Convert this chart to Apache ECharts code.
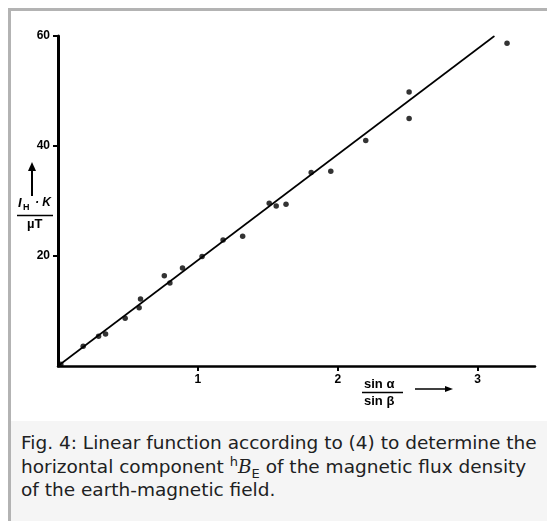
<!DOCTYPE html>
<html>
<head>
<meta charset="utf-8">
<script src="https://cdn.jsdelivr.net/npm/echarts@6/dist/echarts.min.js"></script>
<style>
  html, body { margin: 0; padding: 0; width: 547px; height: 521px; overflow: hidden; background: #ffffff; }
  #frame { position: absolute; left: 8px; top: 8px; width: 600px; height: 600px; border: 3px solid #b3b3b3; background: #ffffff; }
  #chart { position: absolute; left: 0; top: 0; width: 547px; height: 521px; z-index: 1; }
  #caption { position: absolute; left: 11px; top: 421px; width: 560px; height: 120px; background: #f5f5f5; z-index: 2;
             font-family: "DejaVu Sans", sans-serif; font-size: 18.5px; line-height: 23.5px; color: #202122; padding: 10px 0 0 10px; box-sizing: border-box; white-space: nowrap; }
  #caption i { font-family: "DejaVu Serif", serif; }
  #caption sup, #caption sub { font-size: 13px; line-height: 0; }
</style>
</head>
<body>
<div id="frame"></div>
<div id="chart"></div>
<div id="caption">Fig. 4: Linear function according to (4) to determine the<br>horizontal component <sup>h</sup><i>B</i><sub>E</sub> of the magnetic flux density<br>of the earth-magnetic field.</div>
<script>
// measured points: sin(alpha)/sin(beta) vs I_H*K / uT
const ratioX = [0.02, 0.18, 0.29, 0.34, 0.48, 0.58, 0.59, 0.76, 0.80, 0.89, 1.03, 1.18, 1.32, 1.51, 1.56, 1.63, 1.81, 1.95, 2.20, 2.51, 2.51, 3.21];
const valueY = [0.3, 3.6, 5.4, 5.8, 8.7, 10.6, 12.2, 16.4, 15.1, 17.8, 19.9, 22.9, 23.6, 29.6, 29.1, 29.4, 35.2, 35.4, 41.0, 49.8, 45.0, 58.7];
// fitted straight line endpoints
const fitX = [0, 3.12];
const fitY = [0, 60];
const xTicks = [1, 2, 3];
const yTicks = [20, 40, 60];

const points = ratioX.map((x, i) => [x, valueY[i]]);
const fitLine = fitX.map((x, i) => [x, fitY[i]]);

const chart = echarts.init(document.getElementById('chart'), null, { renderer: 'canvas' });
const labelFont = { fontFamily: 'Liberation Sans', fontWeight: 'bold', fontSize: 12, color: '#000' };

chart.setOption({
  backgroundColor: 'transparent',
  animation: false,
  grid: { left: 58, top: 36, right: 12, bottom: 155 },
  xAxis: {
    type: 'value', min: 0, max: 3.41, interval: 1,
    axisLine: { lineStyle: { color: '#000', width: 2.5 } },
    axisTick: { show: true, length: 5, lineStyle: { color: '#000', width: 2 },
      customValues: xTicks },
    axisLabel: Object.assign({ margin: 8, customValues: xTicks,
      formatter: v => xTicks.includes(v) ? String(v) : '' }, labelFont),
    splitLine: { show: false }
  },
  yAxis: {
    type: 'value', min: 0, max: 60, interval: 20,
    axisLine: { show: true, lineStyle: { color: '#000', width: 3 } },
    axisTick: { show: true, length: 5, lineStyle: { color: '#000', width: 2 },
      customValues: yTicks },
    axisLabel: Object.assign({ margin: 8, customValues: yTicks,
      formatter: v => yTicks.includes(v) ? String(v) : '' }, labelFont),
    splitLine: { show: false }
  },
  series: [
    { type: 'line', data: fitLine, symbol: 'none', lineStyle: { color: '#000', width: 1.6 }, z: 2 },
    { type: 'scatter', data: points, symbol: 'circle', symbolSize: 5.5, itemStyle: { color: '#000' }, z: 3 }
  ],
  graphic: [
    // y-axis name: I_H · K / µT with arrow
    { type: 'line', shape: { x1: 32, y1: 196, x2: 32, y2: 170 }, style: { stroke: '#000', lineWidth: 2 } },
    { type: 'polygon', shape: { points: [[28, 171], [36, 171], [32, 162]] }, style: { fill: '#000' } },
    { type: 'text', left: 18, top: 197, style: { text: 'I', font: 'italic bold 13px "Liberation Sans"', fill: '#000' } },
    { type: 'text', left: 23, top: 203, style: { text: 'H', font: 'bold 9px "Liberation Sans"', fill: '#000' } },
    { type: 'text', left: 35, top: 197, style: { text: '· K', font: 'italic bold 12px "Liberation Sans"', fill: '#000' } },
    { type: 'line', shape: { x1: 17, y1: 215.5, x2: 53, y2: 215.5 }, style: { stroke: '#000', lineWidth: 1.5 } },
    { type: 'text', left: 27, top: 218, style: { text: 'µT', font: 'bold 13px "Liberation Sans"', fill: '#000' } },
    // x-axis name: sin α / sin β with arrow
    { type: 'text', left: 364, top: 378, style: { text: 'sin α', font: 'bold 13px "Liberation Sans"', fill: '#000' } },
    { type: 'line', shape: { x1: 362, y1: 392.5, x2: 403, y2: 392.5 }, style: { stroke: '#000', lineWidth: 1.5 } },
    { type: 'text', left: 364, top: 395, style: { text: 'sin β', font: 'bold 13px "Liberation Sans"', fill: '#000' } },
    { type: 'line', shape: { x1: 415, y1: 389, x2: 446, y2: 389 }, style: { stroke: '#000', lineWidth: 1.5 } },
    { type: 'polygon', shape: { points: [[445, 386], [445, 392], [453, 389]] }, style: { fill: '#000' } }
  ]
});
</script>
</body>
</html>
